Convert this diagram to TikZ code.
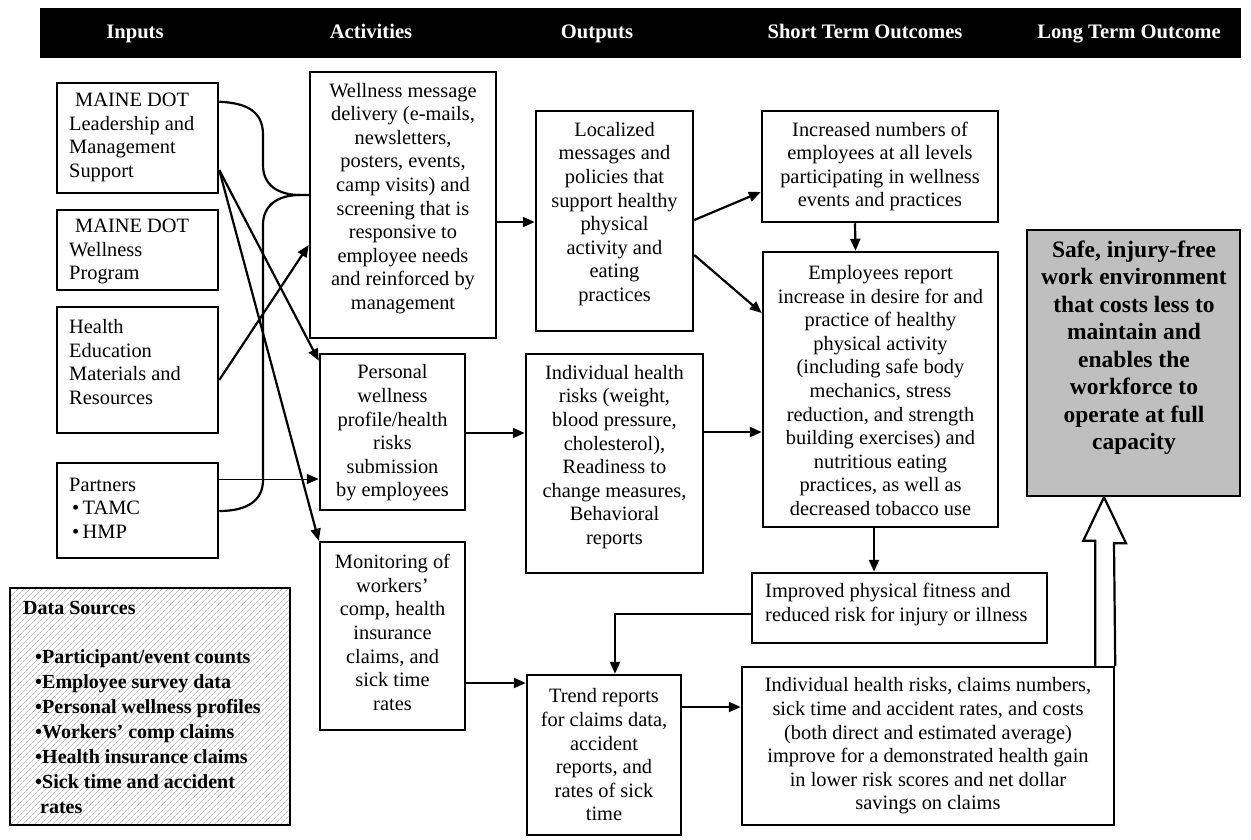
\documentclass[tikz,border=0pt]{standalone}
\usepackage{fontspec}
\setmainfont{Liberation Serif}
\usetikzlibrary{arrows.meta,patterns.meta}
\newcommand\bxfont{\fontsize{20.4}{23.6}\selectfont}
\begin{document}
\begin{tikzpicture}[x=1pt,y=-1pt,
  box/.style={draw,line width=2.5pt,inner sep=0pt,fill=white},
  txt/.style={inner sep=0pt,align=center,font=\bxfont},
  ltxt/.style={inner sep=0pt,align=left,font=\bxfont,anchor=west},
  htxt/.style={inner sep=0pt,anchor=base,text=white,font=\bfseries\fontsize{20.6}{24}\selectfont},
  conn/.style={line width=2.2pt},
  arr/.style={conn,-{Triangle[length=12pt,width=10pt]}},
  thinarr/.style={line width=1pt,-{Triangle[length=12pt,width=10pt]}}
]
\useasboundingbox (0,0) rectangle (1251,839);

% header
\node[fill=black,minimum width=1201pt,minimum height=50pt,inner sep=0pt] (hdr) at (640.5,33) {};
\node[htxt] (h1) at (135,38) {Inputs};
\node[htxt] (h2) at (371,38) {Activities};
\node[htxt] (h3) at (597,38) {Outputs};
\node[htxt] (h4) at (865,38) {Short Term Outcomes};
\node[htxt] (h5) at (1129,38) {Long Term Outcome};

% inputs
\node[box,minimum width=161pt,minimum height=110pt] (in1) at (137.5,138) {};
\node[ltxt] (in1t) at (69,137.5) {\hspace*{6pt}MAINE DOT\\Leadership and\\Management\\Support};
\node[box,minimum width=161pt,minimum height=80pt] (in2) at (137.5,250) {};
\node[ltxt] (in2t) at (69,251.5) {\hspace*{6pt}MAINE DOT\\Wellness\\Program};
\node[box,minimum width=161pt,minimum height=126pt] (in3) at (137.5,370) {};
\node[ltxt] (in3t) at (69,362) {Health\\Education\\Materials and\\Resources};
\node[box,minimum width=161pt,minimum height=95pt] (in4) at (137.5,510.5) {};
\node[ltxt] (in4t) at (69,508) {Partners\\\hspace*{3pt}•\,TAMC\\\hspace*{3pt}•\,HMP};

% data sources
\node[draw,line width=2.5pt,inner sep=0pt,minimum width=280pt,minimum height=237pt,
      pattern={Lines[angle=45,distance=4pt,line width=0.6pt]},pattern color=gray!80] (ds) at (150,706.5) {};
\node[inner sep=0pt,align=left,anchor=west,font=\bfseries\fontsize{20}{25}\selectfont] (dst) at (23,707.5)
 {Data Sources\\[24pt]
  \hspace*{12pt}•Participant/event counts\\
  \hspace*{12pt}•Employee survey data\\
  \hspace*{12pt}•Personal wellness profiles\\
  \hspace*{12pt}•Workers' comp claims\\
  \hspace*{12pt}•Health insurance claims\\
  \hspace*{12pt}•Sick time and accident\\
  \hspace*{17pt}rates};

% activities
\node[box,minimum width=186pt,minimum height=266pt] (act1) at (403,205) {};
\node[txt] (act1t) at (403,198.5) {Wellness message\\delivery (e-mails,\\newsletters,\\posters, events,\\camp visits) and\\screening that is\\responsive to\\employee needs\\and reinforced by\\management};
\node[box,minimum width=145pt,minimum height=156pt] (act2) at (392.5,432) {};
\node[txt] (act2t) at (392.5,433) {Personal\\wellness\\profile/health\\risks\\submission\\by employees};
\node[box,minimum width=145pt,minimum height=188pt] (act3) at (392.5,636) {};
\node[txt] (act3t) at (392.5,632.5) {Monitoring of\\workers'\\comp, health\\insurance\\claims, and\\sick time\\rates};

% outputs
\node[box,minimum width=157pt,minimum height=220pt] (out1) at (614.5,221) {};
\node[txt] (out1t) at (614.5,214) {Localized\\messages and\\policies that\\support healthy\\physical\\activity and\\eating\\practices};
\node[box,minimum width=177pt,minimum height=219pt] (out2) at (614.5,463.5) {};
\node[txt] (out2t) at (614.5,457) {Individual health\\risks (weight,\\blood pressure,\\cholesterol),\\Readiness to\\change measures,\\Behavioral\\reports};
\node[box,minimum width=154pt,minimum height=160pt] (out3) at (604,755) {};
\node[txt] (out3t) at (604,755) {Trend reports\\for claims data,\\accident\\reports, and\\rates of sick\\time};

% short term outcomes
\node[box,minimum width=236pt,minimum height=111pt] (st1) at (880,166.5) {};
\node[txt] (st1t) at (880,166.5) {Increased numbers of\\employees at all levels\\participating in wellness\\events and practices};
\node[box,minimum width=235pt,minimum height=275pt] (st2) at (880.5,389.5) {};
\node[txt] (st2t) at (880.5,390.5) {Employees report\\increase in desire for and\\practice of healthy\\physical activity\\(including safe body\\mechanics, stress\\reduction, and strength\\building exercises) and\\nutritious eating\\practices, as well as\\decreased tobacco use};
\node[box,minimum width=295pt,minimum height=70pt] (st3) at (899.5,608) {};
\node[ltxt] (st3t) at (765,604.5) {Improved physical fitness and\\reduced risk for injury or illness};
\node[box,minimum width=372pt,minimum height=158pt] (bb) at (928,746) {};
\node[txt] (bbt) at (928,746) {Individual health risks, claims numbers,\\sick time and accident rates, and costs\\(both direct and estimated average)\\improve for a demonstrated health gain\\in lower risk scores and net dollar\\savings on claims};

% long term outcome
\node[box,fill=gray!50,minimum width=213pt,minimum height=266pt] (safe) at (1133.5,363) {};
\node[inner sep=0pt,align=center,font=\bfseries\fontsize{23.5}{27.5}\selectfont] (safet) at (1134,348)
 {Safe, injury-free\\work environment\\that costs less to\\maintain and\\enables the\\workforce to\\operate at full\\capacity};

% connectors: brace from inputs to activity 1
\coordinate (tip) at (300,195);
\draw[conn] ([yshift=-20pt]in1.north east) .. controls (248,103) and (263,112) .. (263,135)
   -- (263,165) .. controls (263,185) and (278,195) .. (tip) -- ([yshift=10pt]act1.west);
\draw[conn] (tip) .. controls (278,195) and (263,205) .. (263,225) -- (263,480)
   .. controls (263,500) and (248,511) .. ([yshift=-0.5pt]in4.east);
\draw[thinarr] ([yshift=31.5pt]in4.east) -- ([yshift=-47pt]act2.west);
\draw[arr] ([yshift=-32pt]in1.east) -- ([yshift=-8pt]act2.north west);
\draw[arr] ([yshift=-32pt]in1.east) -- (act3.north west);
\draw[arr] ([yshift=-10pt]in3.east) -- ([yshift=-40pt]act1.west);

\draw[arr] ([yshift=-17pt]act1.east) -- ([yshift=-1pt]out1.west);
\draw[arr] ([yshift=1pt]out1.east) -- ([yshift=-25.5pt]st1.west);
\draw[arr] ([yshift=-34pt]out1.east) -- ([yshift=76.5pt]st2.west);
\draw[arr] ([xshift=-25pt]st1.south) -- ([xshift=-25pt]st2.north);
\draw[arr] ([yshift=-1pt]act2.east) -- ([yshift=30.5pt]out2.west);
\draw[arr] ([yshift=31.5pt]out2.east) -- ([yshift=-42.5pt]st2.west);
\draw[arr] ([xshift=-6.5pt]st2.south) -- ([xshift=-25.5pt]st3.north);
\draw[arr] ([yshift=-6pt]st3.west) -| ([xshift=11pt]out3.north);
\draw[arr] ([yshift=-47pt]act3.east) -- ([yshift=72pt]out3.west);
\draw[arr] ([yshift=48pt]out3.east) -- ([yshift=39pt]bb.west);

% hollow arrow
\coordinate (ha) at ([xshift=-29.5pt]safe.south);
\draw[line width=2.2pt,fill=white] ([xshift=-20pt]bb.north east) -- ++(0,-125) -- ++(-12,0) -- (ha)
   -- ++(22,46) -- ++(-12,0) -- (bb.north east);
\end{tikzpicture}
\end{document}
